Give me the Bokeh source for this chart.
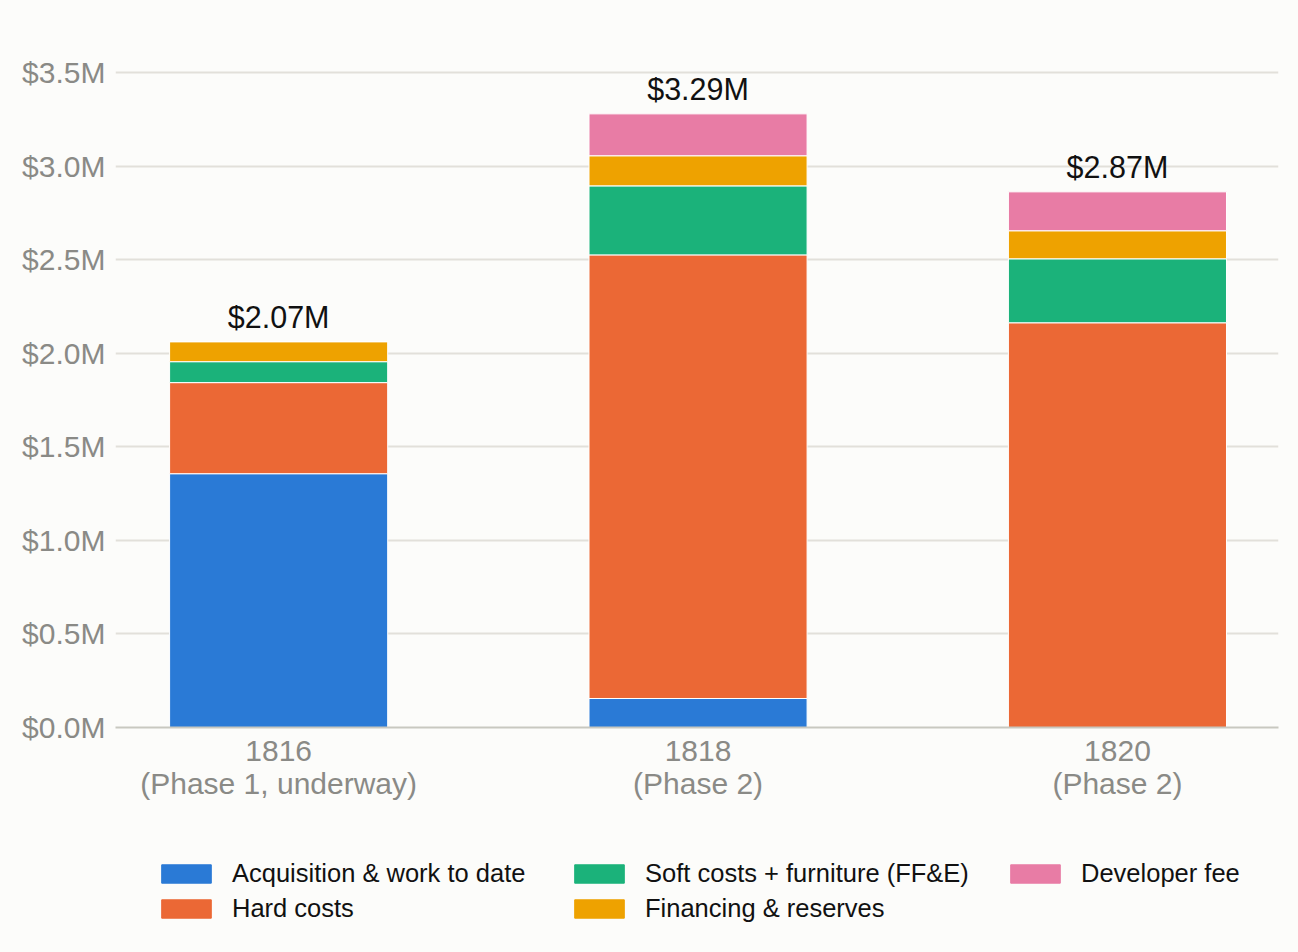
from bokeh.plotting import figure
from bokeh.layouts import column
from bokeh.models import (ColumnDataSource, FixedTicker, PrintfTickFormatter,
                          Legend, LegendItem, Range1d)
from bokeh.core.properties import value
from bokeh.embed import file_html
from bokeh.resources import INLINE

# ---- data ----
categories = ["1816\n(Phase 1, underway)", "1818\n(Phase 2)", "1820\n(Phase 2)"]
acquisition = [1.357, 0.155, 0.0]
hard_costs = [0.487, 2.372, 2.164]
soft_costs = [0.112, 0.369, 0.342]
financing = [0.107, 0.161, 0.150]
developer_fee = [0.0, 0.224, 0.208]
total_labels = ["$2.07M", "$3.29M", "$2.87M"]
series_names = ["Acquisition & work to date", "Hard costs",
                "Soft costs + furniture (FF&E)", "Financing & reserves",
                "Developer fee"]
series_keys = ["acq", "hard", "soft", "fin", "dev"]
colors = ["#2a7ad6", "#eb6835", "#1bb27a", "#eea200", "#e87ca5"]
y_ticks = [0.0, 0.5, 1.0, 1.5, 2.0, 2.5, 3.0, 3.5]

xs = list(range(len(categories)))
totals = [a + b + c + d + e for a, b, c, d, e in
          zip(acquisition, hard_costs, soft_costs, financing, developer_fee)]

src = ColumnDataSource(dict(x=xs, acq=acquisition, hard=hard_costs,
                            soft=soft_costs, fin=financing, dev=developer_fee,
                            total=totals, label=total_labels))

BG = "#fcfcfa"
FONT = "Liberation Sans"
W = 1298

p = figure(width=W, height=830, output_backend="svg", toolbar_location=None,
           x_range=Range1d(-0.389, 2.384), y_range=Range1d(0, 3.7),
           min_border_left=115, min_border_right=20, min_border_top=35,
           min_border_bottom=103)
p.background_fill_color = BG
p.border_fill_color = BG
p.outline_line_color = None

renderers = p.vbar_stack(series_keys, x="x", width=0.52, source=src,
                         color=colors, line_color="white", line_width=1)

p.text(x="x", y="total", text="label", source=src, text_align="center",
       text_baseline="alphabetic", y_offset=-25, text_color="#111111",
       text_font=value(FONT), text_font_size="30.5px")

# axes
p.xaxis.ticker = FixedTicker(ticks=xs)
p.xaxis.major_label_overrides = {i: c for i, c in zip(xs, categories)}
p.xaxis.major_tick_line_color = None
p.xaxis.minor_tick_line_color = None
p.xaxis.axis_line_color = "#c8c8c0"
p.xaxis.axis_line_width = 2
p.xaxis.major_label_text_font = FONT
p.xaxis.major_label_text_font_size = "30px"
p.xaxis.major_label_text_color = "#8a8a86"
p.xaxis.major_label_text_line_height = 1.0
p.xaxis.major_label_standoff = 0

p.yaxis.ticker = FixedTicker(ticks=y_ticks)
p.yaxis.formatter = PrintfTickFormatter(format="$%.1fM")
p.yaxis.axis_line_color = None
p.yaxis.major_tick_line_color = None
p.yaxis.minor_tick_line_color = None
p.yaxis.major_label_text_font = FONT
p.yaxis.major_label_text_font_size = "30px"
p.yaxis.major_label_text_color = "#8a8a86"
p.yaxis.major_label_standoff = 4

p.xgrid.grid_line_color = None
p.ygrid.grid_line_color = "#e2e0da"
p.ygrid.grid_line_width = 2

# legend panel below (separate figure; its frame is aligned with the main one)
LH = 122
q = figure(width=W, height=LH, output_backend="svg", toolbar_location=None,
           x_range=Range1d(-0.389, 2.384), y_range=Range1d(10, 11),
           x_axis_location=None, y_axis_location=None,
           min_border_left=115, min_border_right=20, min_border_top=0,
           min_border_bottom=0)
q.background_fill_color = BG
q.border_fill_color = BG
q.outline_line_color = None
q.grid.grid_line_color = None

swatches = q.vbar_stack(series_keys, x="x", width=0.52, source=src, color=colors)
for r in swatches:
    r.visible = False

col_groups = [[0, 1], [2, 3], [4]]
col_pos = [(40, 29), (453, 29), (889, 64)]
for grp, (cx, cy) in zip(col_groups, col_pos):
    items = [LegendItem(label=series_names[i], renderers=[swatches[i]]) for i in grp]
    lg = Legend(items=items, orientation="vertical",
                label_text_font=FONT, label_text_font_size="25.5px",
                label_text_color="#111111", glyph_width=62, glyph_height=23,
                label_standoff=15, spacing=6, padding=0, margin=0,
                background_fill_alpha=0, border_line_color=None,
                location=(cx, cy))
    q.add_layout(lg, "center")

layout = column(p, q, spacing=0)
html = file_html(layout, INLINE)
html = html.replace("<head>", "<head><style>body{background:%s;}</style>" % BG, 1)
open("out.html", "w").write(html)
